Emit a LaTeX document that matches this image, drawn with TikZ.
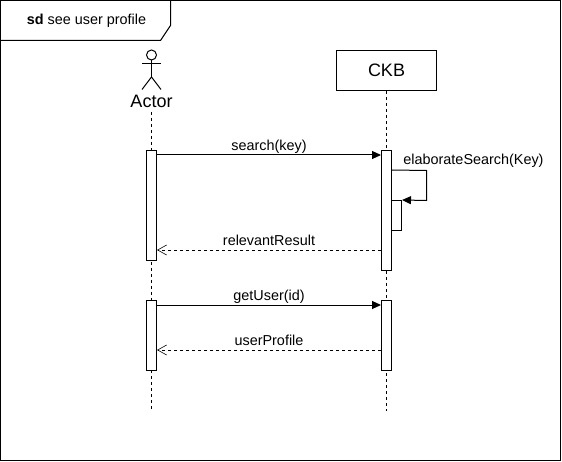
\documentclass[tikz,border=0pt]{standalone}
\usepackage{fontspec}
\setmainfont{Liberation Sans}
\usetikzlibrary{arrows.meta}
\tikzset{
  bar/.style={draw, fill=white, minimum width=10pt, inner sep=0pt},
  life/.style={line width=1pt, dash pattern=on 3pt off 3pt},
  call/.style={-{Triangle[length=9pt,width=8pt]}, line width=1pt},
  answer/.style={-{Straight Barb[length=9pt,width=10pt,line width=.6pt]}, line width=.8pt, dash pattern=on 3pt off 3pt},
  msg/.style={font=\fontsize{14.4}{16}\selectfont, inner sep=1pt, text depth=3.1pt}
}
\begin{document}
\begin{tikzpicture}[x=1pt, y=-1pt, line width=1pt]
  \useasboundingbox (0,0) rectangle (562,462);
  % frame
  \coordinate (tl) at (.5,.5);
  \coordinate (br) at (560.5,460.5);
  \draw (tl) rectangle (br);
  \node(title)[msg] at (86.5,21) {\textbf{sd} see user profile};
  \draw (.5,40.5) -- (160.5,40.5) -- (170.5,25.5) -- (170.5,.5);
  % actor
  \draw (151.5,55) circle (5);
  \draw (151.5,60) -- (151.5,77);
  \draw (142,63.5) -- (161,63.5);
  \draw (142,89.5) -- (151.5,77) -- (161,89.5);
  \node(actor)[font=\fontsize{18}{20}\selectfont, inner sep=0pt] at (151.5,101) {Actor};
  \node(ckb)[draw, minimum width=100pt, minimum height=40pt, inner sep=0pt, font=\fontsize{18}{20}\selectfont] at (386.5,70.5) {CKB};
  % lifelines
  \coordinate (actortop) at (151.5,112);
  \coordinate (actorend) at (151.5,410.5);
  \coordinate (ckbend) at (386.5,410.5);
  \draw[life] (actortop) -- (actorend);
  \draw[life] (ckb.south) -- (ckbend);
  % activations
  \node(actfirst)[bar, minimum height=110pt] at (151.5,205.5) {};
  \node(actsecond)[bar, minimum height=70pt] at (151.5,335.5) {};
  \node(ckbfirst)[bar, minimum height=120pt] at (386.5,210.5) {};
  \node(ckbself)[bar, minimum height=30pt] at (396.5,215.5) {};
  \node(ckbsecond)[bar, minimum height=70pt] at (386.5,335.5) {};
  % messages
  \draw[call] ([yshift=-5pt]actfirst.north east) -- ([yshift=-5pt]ckbfirst.north west) node[msg, midway, above] {search(key)};
  \draw[call] ([yshift=-20pt]ckbfirst.north east) -- (426.5,170.5) -- (426.5,200.5) -- (ckbself.north east);
  \node(selflabel)[msg] at (473.5,161) {elaborateSearch(Key)};
  \draw[answer] ([yshift=-100pt]ckbfirst.north west) -- ([yshift=-100pt]actfirst.north east) node[msg, midway, above] {relevantResult};
  \draw[call] ([yshift=-5pt]actsecond.north east) -- ([yshift=-5pt]ckbsecond.north west) node[msg, midway, above] {getUser(id)};
  \draw[answer] ([yshift=-50pt]ckbsecond.north west) -- ([yshift=-50pt]actsecond.north east) node[msg, midway, above] {userProfile};
\end{tikzpicture}
\end{document}
